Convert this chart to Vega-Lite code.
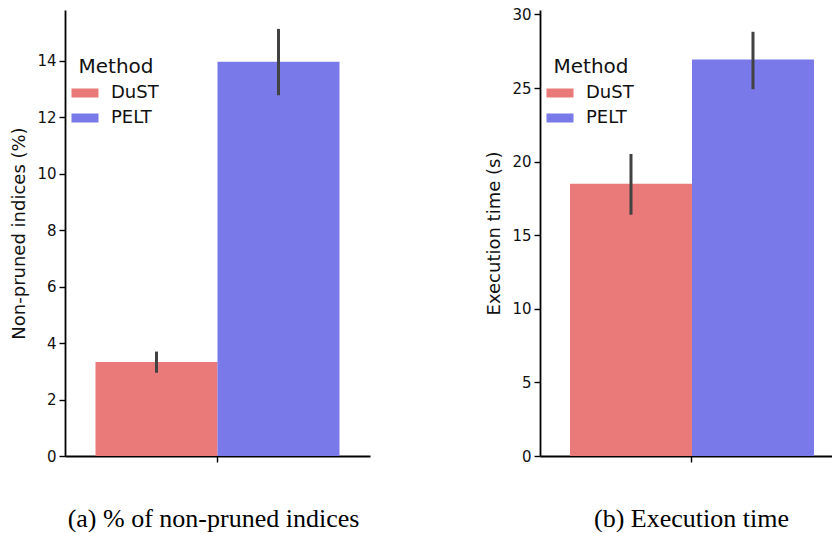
{
  "$schema": "https://vega.github.io/schema/vega-lite/v6.json",
  "background": "white",
  "padding": {"left": 10, "top": 7, "right": 0, "bottom": 0},
  "config": {
    "font": "DejaVu Sans",
    "view": {"stroke": null},
    "axis": {"labelFont": "DejaVu Sans", "titleFont": "DejaVu Sans", "domainColor": "black", "domainWidth": 1.8, "tickColor": "black", "tickWidth": 1.4, "tickSize": 6, "labelColor": "#111111", "labelFontSize": 15, "titleFontSize": 18, "titleFontWeight": "normal", "titleColor": "#111111", "grid": false, "labelPadding": 3, "titlePadding": 8},
    "legend": {"orient": "none", "legendX": 8, "legendY": 47, "labelFont": "DejaVu Sans", "titleFont": "DejaVu Sans", "titleFontSize": 20, "titleFontWeight": "normal", "titleColor": "#111111", "titleAnchor": "middle", "labelFontSize": 18, "labelColor": "#111111", "symbolType": "M-1.125,-0.375H1.125V0.375H-1.125Z", "symbolSize": 576, "symbolStrokeWidth": 0, "symbolOpacity": 1, "rowPadding": 4, "labelOffset": 14, "titlePadding": 4}
  },
  "data": {"values": [
    {"panel": "a", "g": "all", "Method": "DuST", "value": 3.33, "lo": 2.95, "hi": 3.70},
    {"panel": "a", "g": "all", "Method": "PELT", "value": 13.97, "lo": 12.78, "hi": 15.13},
    {"panel": "b", "g": "all", "Method": "DuST", "value": 18.5, "lo": 16.39, "hi": 20.52},
    {"panel": "b", "g": "all", "Method": "PELT", "value": 26.94, "lo": 24.92, "hi": 28.82}
  ]},
  "spacing": 115,
  "resolve": {"scale": {"y": "independent", "x": "independent", "color": "independent"}, "legend": {"color": "independent"}},
  "hconcat": [
    {
      "width": 305, "height": 446,
      "transform": [{"filter": "datum.panel == 'a'"}],
      "encoding": {
        "x": {"field": "g", "type": "nominal", "scale": {"paddingInner": 0, "paddingOuter": 0.125}, "axis": {"labels": false, "title": "(a) % of non-pruned indices", "titleFont": "Liberation Serif", "titleFontSize": 26, "titleColor": "black", "titlePadding": 43, "titleX": 148}},
        "xOffset": {"field": "Method", "type": "nominal", "scale": {"paddingInner": 0, "paddingOuter": 0}}
      },
      "layer": [
        {"mark": {"type": "bar"}, "encoding": {
          "y": {"field": "value", "type": "quantitative", "scale": {"domain": [0, 15.8], "nice": false}, "axis": {"title": "Non-pruned indices (%)", "values": [0, 2, 4, 6, 8, 10, 12, 14]}},
          "color": {"field": "Method", "type": "nominal", "scale": {"domain": ["DuST", "PELT"], "range": ["#EA7979", "#7979EA"]}, "legend": {"title": "Method"}}
        }},
        {"mark": {"type": "rule", "strokeWidth": 3, "color": "#424242"}, "encoding": {
          "y": {"field": "lo", "type": "quantitative"},
          "y2": {"field": "hi"}
        }}
      ]
    },
    {
      "width": 293, "height": 446,
      "transform": [{"filter": "datum.panel == 'b'"}],
      "encoding": {
        "x": {"field": "g", "type": "nominal", "scale": {"paddingInner": 0, "paddingOuter": 0.1004, "align": 0.612}, "axis": {"labels": false, "title": "(b) Execution time", "titleFont": "Liberation Serif", "titleFontSize": 26, "titleColor": "black", "titlePadding": 43, "titleX": 151}},
        "xOffset": {"field": "Method", "type": "nominal", "scale": {"paddingInner": 0, "paddingOuter": 0}}
      },
      "layer": [
        {"mark": {"type": "bar"}, "encoding": {
          "y": {"field": "value", "type": "quantitative", "scale": {"domain": [0, 30.3], "nice": false}, "axis": {"title": "Execution time (s)", "values": [0, 5, 10, 15, 20, 25, 30]}},
          "color": {"field": "Method", "type": "nominal", "scale": {"domain": ["DuST", "PELT"], "range": ["#EA7979", "#7979EA"]}, "legend": {"title": "Method"}}
        }},
        {"mark": {"type": "rule", "strokeWidth": 3, "color": "#424242"}, "encoding": {
          "y": {"field": "lo", "type": "quantitative"},
          "y2": {"field": "hi"}
        }}
      ]
    }
  ]
}
